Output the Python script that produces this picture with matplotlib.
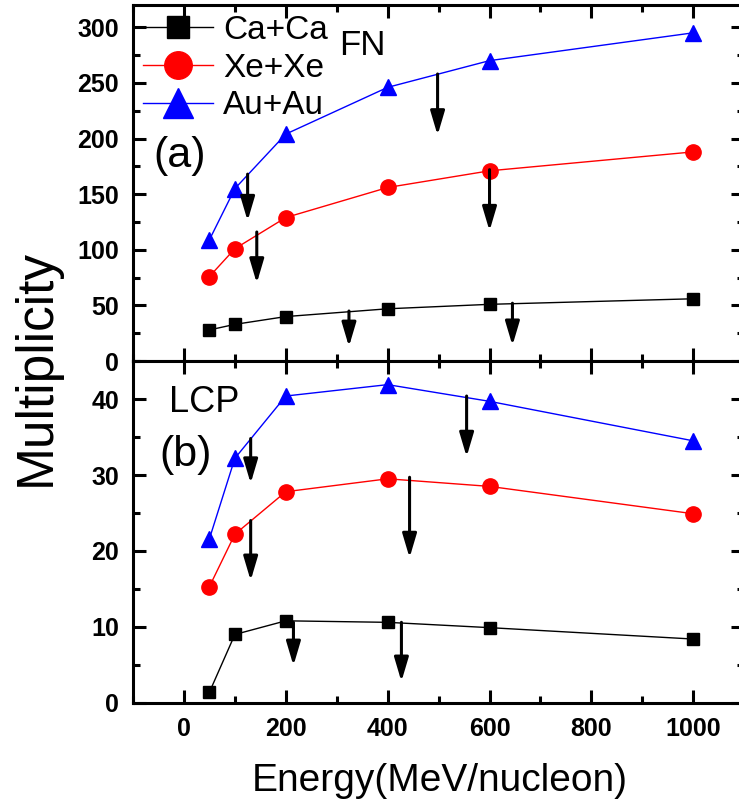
import numpy as np
import matplotlib.pyplot as plt
from matplotlib.ticker import MultipleLocator

plt.rcParams['font.family'] = ['Liberation Sans', 'DejaVu Sans']

energy = [50, 100, 200, 400, 600, 1000]

# panel (a): FN
fn_ca = [28, 33, 40, 47, 51, 56]
fn_xe = [76, 101, 129, 156, 171, 188]
fn_au = [109, 155, 204, 246, 270, 295]
# arrows (x, y_start, y_end)
fn_arrows = [(125, 168, 126), (143, 116, 70), (324, 45, 13),
             (498, 258, 203), (600, 172, 117), (645, 52, 14)]

# panel (b): LCP
lcp_ca = [1.4, 9.0, 10.8, 10.6, 9.9, 8.4]
lcp_xe = [15.3, 22.2, 27.8, 29.5, 28.5, 24.9]
lcp_au = [21.6, 32.2, 40.4, 41.9, 39.7, 34.5]
lcp_arrows = [(131, 34.8, 28.9), (131, 24.0, 16.1), (215, 10.6, 4.9),
              (555, 40.4, 32.4), (443, 29.7, 19.1), (427, 10.6, 2.8)]

labels = ['Ca+Ca', 'Xe+Xe', 'Au+Au']
colors = ['black', 'red', 'blue']
markers = ['s', 'o', '^']
msizes = [8.5, 11, 12]

fig = plt.figure(figsize=(7.39, 8.06), dpi=100)
ax1 = fig.add_axes([0.18, 0.552, 0.827, 0.4418])
ax2 = fig.add_axes([0.18, 0.128, 0.827, 0.424])


def style_axis(ax, ymax, ymaj, ymin):
    ax.set_xlim(-100, 1100)
    ax.set_ylim(0, ymax)
    ax.xaxis.set_major_locator(MultipleLocator(200))
    ax.xaxis.set_minor_locator(MultipleLocator(100))
    ax.yaxis.set_major_locator(MultipleLocator(ymaj))
    ax.yaxis.set_minor_locator(MultipleLocator(ymin))
    ax.tick_params(which='both', direction='in', top=True, right=True, width=2.2)
    ax.tick_params(which='major', length=9.5, labelsize=18, pad=10)
    ax.tick_params(which='minor', length=5)
    for s in ax.spines.values():
        s.set_linewidth(2.2)
    for lab in ax.get_xticklabels() + ax.get_yticklabels():
        lab.set_fontweight('bold')


def draw_arrows(ax, arrows):
    for x, y0, y1 in arrows:
        ax.annotate('', xy=(x, y1), xytext=(x, y0),
                    arrowprops=dict(arrowstyle='-|>,head_length=1.45,head_width=0.43',
                                    mutation_scale=10, lw=2.2, color='black',
                                    shrinkA=0, shrinkB=0))


for series, lab, c, m, ms in zip([fn_ca, fn_xe, fn_au], labels, colors, markers, msizes):
    ax1.plot(energy, series, color=c, marker=m, markersize=ms, lw=1, label=lab)
for series, c, m, ms in zip([lcp_ca, lcp_xe, lcp_au], colors, markers, msizes):
    ax2.plot(energy, series, color=c, marker=m, markersize=ms, lw=1)

draw_arrows(ax1, fn_arrows)
draw_arrows(ax2, lcp_arrows)

style_axis(ax1, 320, 50, 25)
style_axis(ax2, 45, 10, 5)
ax1.set_xticklabels([])
ax2.set_yticks([0, 10, 20, 30, 40])

leg = ax1.legend(loc='upper left', bbox_to_anchor=(0.016, 0.972), frameon=False,
                 fontsize=24, markerscale=1.8, handlelength=2.1,
                 handletextpad=0.3, labelspacing=0.2, borderaxespad=0,
                 borderpad=0)

ax1.text(304, 275, 'FN', fontsize=25, va='baseline')
ax1.text(-61, 174, '(a)', fontsize=31, va='baseline')
ax2.text(-29, 38.3, 'LCP', fontsize=26, va='baseline')
ax2.text(-49, 31.2, '(b)', fontsize=31, va='baseline')

fig.text(36 / 739, 1 - 367 / 806, 'Multiplicity', rotation=90, fontsize=37,
         ha='center', va='center')
fig.text(440 / 739, 1 - 791 / 806, 'Energy(MeV/nucleon)', fontsize=28,
         ha='center', va='baseline')

fig.savefig('out.png', dpi=100)
